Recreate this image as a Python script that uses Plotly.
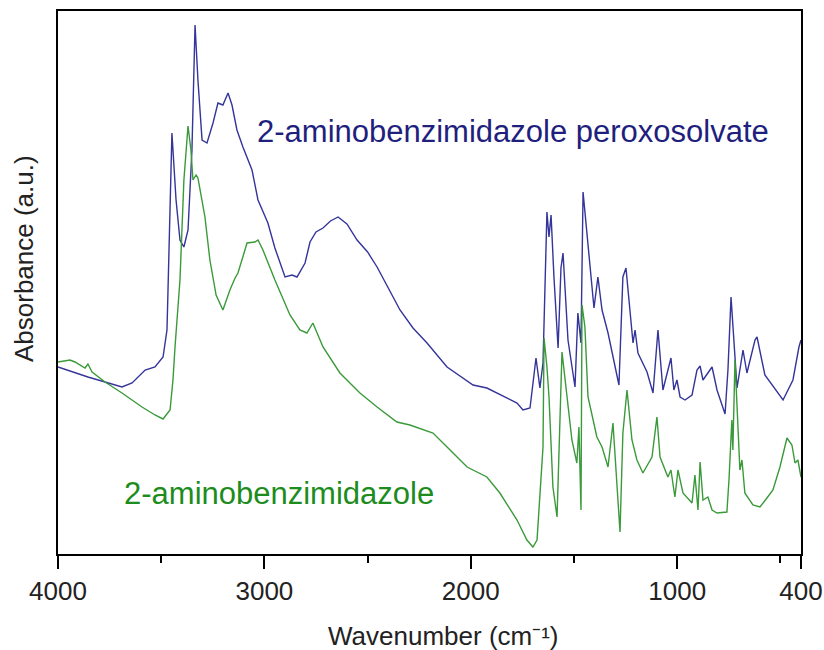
import plotly.graph_objects as go

# 2-aminobenzimidazole peroxosolvate (blue)
perox_wn = [4000, 3855, 3690, 3641, 3578, 3530, 3491, 3472, 3467, 3448, 3428, 3409, 3390,
            3370, 3351, 3336, 3322, 3302, 3278, 3249, 3225, 3201, 3176, 3157, 3133, 3104,
            3060, 3031, 2983, 2949, 2900, 2866, 2842, 2803, 2779, 2750, 2716, 2680, 2643, 2600,
            2551, 2500, 2454, 2400, 2343, 2280, 2212, 2115, 1989, 1922, 1873, 1776, 1747, 1713,
            1684, 1665, 1650, 1631,
            1621, 1611, 1597, 1577, 1563, 1553, 1529, 1495, 1481, 1466, 1456, 1432, 1403,
            1384, 1364, 1335, 1282, 1263, 1248, 1214, 1204, 1190, 1146, 1117, 1093, 1069,
            1030, 1016, 1001, 986, 962, 928, 904, 889, 875, 831, 807, 768, 754, 739, 725,
            710, 681, 662, 623, 613, 575, 516, 487, 439, 410, 400]
perox_abs = [0.187, 0.177, 0.167, 0.171, 0.184, 0.187, 0.197, 0.224, 0.264, 0.421, 0.354, 0.314, 0.307,
             0.324, 0.404, 0.529, 0.474, 0.414, 0.411, 0.431, 0.451, 0.449, 0.461, 0.449, 0.424, 0.407,
             0.384, 0.354, 0.331, 0.306, 0.277, 0.279, 0.277, 0.291, 0.312, 0.322, 0.326, 0.333, 0.337, 0.330,
             0.314, 0.302, 0.287, 0.266, 0.244, 0.226, 0.211, 0.187, 0.169, 0.166, 0.161, 0.151, 0.144, 0.146,
             0.196, 0.166, 0.191, 0.342,
             0.317, 0.339, 0.277, 0.206, 0.286, 0.301, 0.214, 0.167, 0.241, 0.211, 0.362, 0.307, 0.246,
             0.277, 0.244, 0.221, 0.169, 0.277, 0.286, 0.211, 0.224, 0.201, 0.182, 0.161, 0.224, 0.164,
             0.196, 0.164, 0.174, 0.157, 0.154, 0.159, 0.184, 0.188, 0.174, 0.187, 0.164, 0.140, 0.184, 0.257, 0.211,
             0.166, 0.204, 0.181, 0.214, 0.217, 0.179, 0.162, 0.154, 0.174, 0.207, 0.214]

# 2-aminobenzimidazole (green)
abz_wn = [4000, 3942, 3918, 3869, 3855, 3835, 3772, 3690, 3593, 3530, 3491, 3457, 3443, 3433,
          3409, 3390, 3370, 3356, 3346, 3331, 3322, 3288, 3264, 3234, 3201, 3167, 3142, 3128,
          3084, 3046, 3031, 3007, 2949, 2876, 2828, 2794, 2765, 2716, 2634, 2537, 2454, 2358,
          2295, 2183, 2115, 2018, 1922, 1859, 1776, 1728, 1699, 1679, 1650, 1645, 1631, 1621,
          1602, 1582, 1558, 1534, 1510, 1486, 1476, 1466, 1461, 1447, 1432, 1389, 1364, 1335,
          1311, 1277, 1263, 1243, 1219, 1195, 1166, 1122, 1098, 1083, 1045, 1030, 1011, 996,
          972, 928, 914, 899, 889, 875, 851, 831, 807, 759, 749, 735, 730, 720, 710, 696, 686,
          672, 633, 599, 565, 536, 502, 468, 444, 429, 415, 400]
abz_abs = [0.192, 0.194, 0.192, 0.186, 0.190, 0.182, 0.172, 0.161, 0.147, 0.139, 0.135, 0.144, 0.174, 0.207,
           0.274, 0.374, 0.428, 0.404, 0.374, 0.379, 0.376, 0.337, 0.294, 0.259, 0.244, 0.264, 0.276, 0.281,
           0.311, 0.312, 0.314, 0.304, 0.274, 0.239, 0.224, 0.221, 0.231, 0.207, 0.181, 0.161, 0.147, 0.132,
           0.129, 0.121, 0.107, 0.087, 0.077, 0.061, 0.034, 0.014, 0.007, 0.014, 0.107, 0.216, 0.187, 0.157,
           0.067, 0.037, 0.202, 0.157, 0.114, 0.091, 0.127, 0.044, 0.249, 0.227, 0.157, 0.117, 0.107, 0.087,
           0.131, 0.022, 0.121, 0.164, 0.114, 0.094, 0.081, 0.097, 0.137, 0.097, 0.077, 0.084, 0.057, 0.084,
           0.061, 0.051, 0.079, 0.044, 0.092, 0.054, 0.057, 0.044, 0.041, 0.042, 0.074, 0.134, 0.104, 0.194, 0.141, 0.084, 0.094,
           0.061, 0.049, 0.047, 0.056, 0.064, 0.087, 0.116, 0.109, 0.091, 0.094, 0.077]

major_ticks = [4000, 3000, 2000, 1000, 400]
major_labels = ["4000", "3000", "2000", "1000", "400"]
minor_ticks = [3500, 2500, 1500, 500]

FONT = "Liberation Sans, Arial, sans-serif"
BLUE_LINE = "#34349a"
BLUE_TEXT = "#1f1f7e"
GREEN_LINE = "#3a9a3a"
GREEN_TEXT = "#1c8c1c"

fig = go.Figure()
fig.add_trace(go.Scatter(x=perox_wn, y=perox_abs, mode="lines",
                         line=dict(color=BLUE_LINE, width=1.4), showlegend=False))
fig.add_trace(go.Scatter(x=abz_wn, y=abz_abs, mode="lines",
                         line=dict(color=GREEN_LINE, width=1.4), showlegend=False))

fig.update_layout(
    width=824, height=650,
    margin=dict(l=58, r=23, t=11, b=96, autoexpand=False),
    paper_bgcolor="white", plot_bgcolor="white",
    font=dict(family=FONT, color="#222222", size=26),
    xaxis=dict(range=[4000, 400], showgrid=False, zeroline=False, automargin=False,
               showline=True, linecolor="black", linewidth=2, mirror=True,
               ticks="outside", ticklen=13, tickwidth=2, tickcolor="black",
               tickvals=major_ticks, ticktext=major_labels,
               tickfont=dict(size=26, color="#222222"), ticklabelstandoff=0,
               minor=dict(tickvals=minor_ticks, ticks="outside", ticklen=7,
                          tickwidth=2, tickcolor="black", showgrid=False)),
    yaxis=dict(range=[0, 0.543], showgrid=False, zeroline=False, automargin=False,
               showline=True, linecolor="black", linewidth=2, mirror=True,
               showticklabels=False, ticks=""),
    annotations=[
        dict(text="2-aminobenzimidazole peroxosolvate", xref="paper", yref="paper",
             x=0.265, y=0.779, xanchor="left", yanchor="middle", showarrow=False,
             font=dict(family=FONT, size=31, color=BLUE_TEXT)),
        dict(text="2-aminobenzimidazole", xref="paper", yref="paper",
             x=0.086, y=0.112, xanchor="left", yanchor="middle", showarrow=False,
             font=dict(family=FONT, size=31, color=GREEN_TEXT)),
        dict(text="Wavenumber (cm⁻¹)", xref="paper", yref="paper",
             x=0.5195, y=-0.151, xanchor="center", yanchor="middle", showarrow=False,
             font=dict(family=FONT, size=26, color="#222222")),
        dict(text="Absorbance (a.u.)", xref="paper", yref="paper", textangle=-90,
             x=-0.0458, y=0.545, xanchor="center", yanchor="middle", showarrow=False,
             font=dict(family=FONT, size=26, color="#222222")),
    ],
)

# remove the default page margin so the 824x650 figure fills the window exactly
fig.write_html(
    "out.html",
    config={"displayModeBar": False},
    post_script="document.body.style.margin='0';document.body.style.overflow='hidden';",
)
